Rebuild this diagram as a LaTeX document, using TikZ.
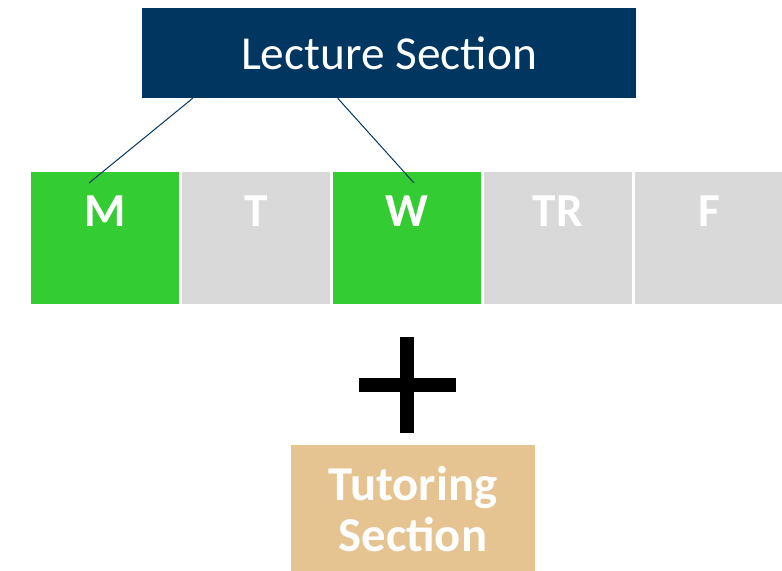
\documentclass[tikz,border=0pt]{standalone}
\usepackage{fontspec}
\setmainfont{Carlito}

\definecolor{navy}{HTML}{003660}
\definecolor{dayon}{HTML}{33CC33}
\definecolor{dayoff}{HTML}{D9D9D9}
\definecolor{tan}{HTML}{E6C491}

\begin{document}
\begin{tikzpicture}[x=0.75pt,y=-0.75pt,
   lecturebox/.style={fill=navy,text=white,minimum width=370.5pt,minimum height=67.5pt,
      inner sep=0pt,font=\fontsize{35.5}{40}\selectfont},
   daybox/.style={text=white,minimum width=111pt,inner sep=0pt,
      text height=40.5pt,text depth=58.5pt,font=\fontsize{35.5}{40}\selectfont\bfseries},
   tutorbox/.style={fill=tan,text=white,minimum width=183pt,minimum height=96pt,
      inner sep=0pt,align=center,anchor=north,
      font=\fontsize{36.5}{38.25}\selectfont\bfseries},
   link/.style={draw=navy,line width=0.75pt}]

\clip (0,0) rectangle (782,571);

\node[lecturebox] (lecture) at (389,53) {Lecture Section};

\foreach \d/\n/\c [count=\i] in {M/mon/dayon,T/tue/dayoff,W/wed/dayon,TR/thu/dayoff,F/fri/dayoff}
  \node[daybox,fill=\c] (\n) at ({105+151*(\i-1)},238) {\d};

\coordinate (mend) at (89,183);
\coordinate (wend) at (414,183);
\draw[link] ([xshift=38.25pt]lecture.south west) -- (mend);
\draw[link] ([xshift=147pt]lecture.south west) -- (wend);

% plus sign
\draw[line width=10.5pt] (407,337) -- (407,433);
\draw[line width=10.5pt] (359,385) -- (456,385);

\node[tutorbox] (tutor) at (413,445) {Tutoring\\Section};

\end{tikzpicture}
\end{document}
